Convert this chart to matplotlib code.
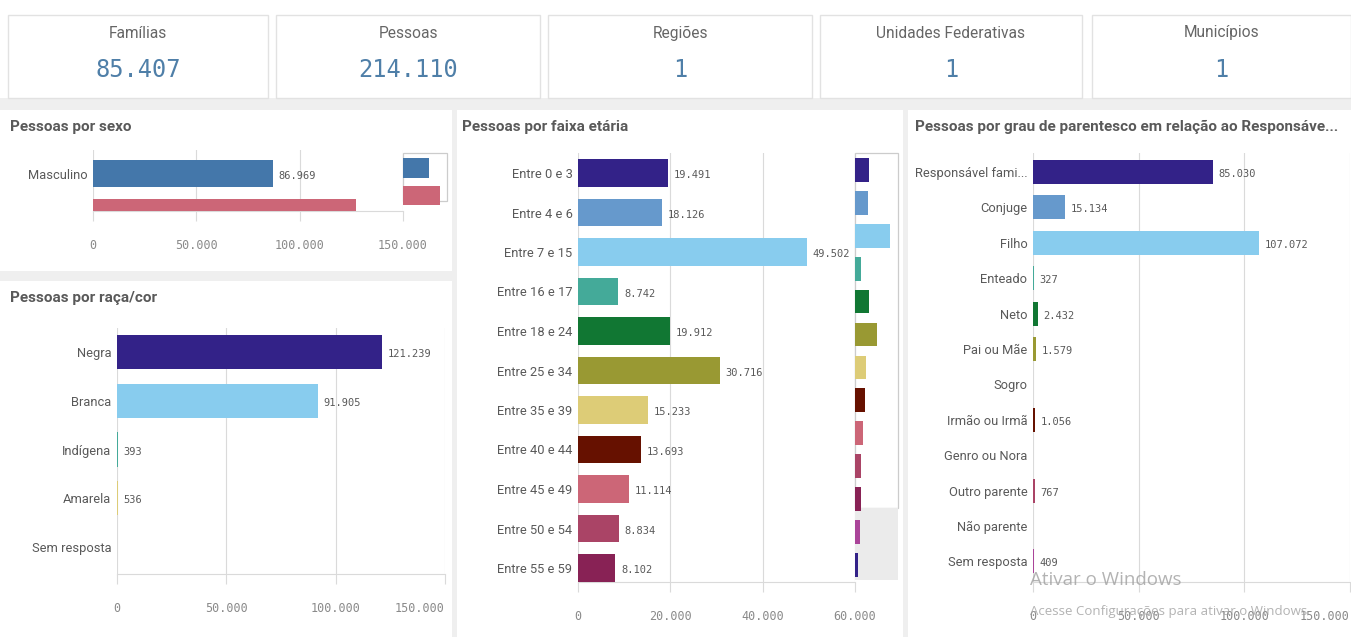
import matplotlib
matplotlib.use('Agg')
import matplotlib.pyplot as plt
from matplotlib import font_manager
from matplotlib.patches import Rectangle
from matplotlib.ticker import FuncFormatter

W, H = 1351, 637

# Indicadores do topo
kpi_titulos = ['Famílias', 'Pessoas', 'Regiões', 'Unidades Federativas', 'Municípios']
kpi_valores = [85407, 214110, 1, 1, 1]

# Pessoas por sexo (a segunda barra fica cortada pela rolagem)
sexo_cat = ['Masculino', 'Feminino']
sexo_val = [86969, 127141]
sexo_cores = ['#4477aa', '#cc6677']

# Pessoas por raça/cor
raca_cat = ['Negra', 'Branca', 'Indígena', 'Amarela', 'Sem resposta']
raca_val = [121239, 91905, 393, 536, 0]
raca_cores = ['#332288', '#88ccee', '#44aa99', '#ddcc77', '#999933']

# Pessoas por faixa etária
faixa_cat = ['Entre 0 e 3', 'Entre 4 e 6', 'Entre 7 e 15', 'Entre 16 e 17', 'Entre 18 e 24',
             'Entre 25 e 34', 'Entre 35 e 39', 'Entre 40 e 44', 'Entre 45 e 49',
             'Entre 50 e 54', 'Entre 55 e 59']
faixa_val = [19491, 18126, 49502, 8742, 19912, 30716, 15233, 13693, 11114, 8834, 8102]
# duas faixas fora da janela, só aparecem na mini-barra de rolagem (valores estimados)
faixa_ocultas_val = [6800, 3700]

# Pessoas por grau de parentesco
par_cat = ['Responsável fami...', 'Conjuge', 'Filho', 'Enteado', 'Neto', 'Pai ou Mãe',
           'Sogro', 'Irmão ou Irmã', 'Genro ou Nora', 'Outro parente', 'Não parente',
           'Sem resposta']
par_val = [85030, 15134, 107072, 327, 2432, 1579, 0, 1056, 0, 767, 0, 409]

paleta = ['#332288', '#6699cc', '#88ccee', '#44aa99', '#117733', '#999933',
          '#ddcc77', '#661100', '#cc6677', '#aa4466', '#882255', '#aa4499']

nomes = {f.name for f in font_manager.fontManager.ttflist}
SANS = 'Liberation Sans Narrow' if 'Liberation Sans Narrow' in nomes else 'Roboto'
MONO = 'DejaVu Sans Mono'
plt.rcParams['font.family'] = [SANS, 'DejaVu Sans']

CINZA_TXT = '#595959'
GRADE = '#dadada'


def milhar(v):
    return f'{int(round(v)):,}'.replace(',', '.')


fig = plt.figure(figsize=(W / 100, H / 100), dpi=100)
fig.patch.set_facecolor('white')

fundo = fig.add_axes([0, 0, 1, 1])
fundo.set_xlim(0, W)
fundo.set_ylim(H, 0)
fundo.axis('off')

# faixa cinza e painéis brancos
fundo.add_patch(Rectangle((0, 98), W, H - 98, facecolor='#efefef', edgecolor='none'))
for x0, y0, x1, y1 in [(0, 110, 452, 271), (0, 281, 452, 637),
                       (457, 110, 903, 637), (908, 110, W, 637)]:
    fundo.add_patch(Rectangle((x0, y0), x1 - x0, y1 - y0, facecolor='white', edgecolor='none'))

# cartões de indicadores
cartoes = [(8, 268), (276, 540), (548, 812), (820, 1082), (1092, W)]
for (x0, x1), tit, val in zip(cartoes, kpi_titulos, kpi_valores):
    fundo.add_patch(Rectangle((x0, 15), x1 - x0, 83, facecolor='white',
                              edgecolor='#e2e2e2', lw=1))
    cx = (x0 + x1) / 2
    fundo.text(cx, 33, tit, ha='center', va='center', fontsize=11.2, color='#666666')
    fundo.text(cx, 70, milhar(val), ha='center', va='center', fontsize=17,
               family=MONO, color='#4f7fa8')

# títulos dos painéis
for x, y, t in [(10, 127, 'Pessoas por sexo'), (10, 298, 'Pessoas por raça/cor'),
                (462, 127, 'Pessoas por faixa etária'),
                (915, 127, 'Pessoas por grau de parentesco em relação ao Responsáve...')]:
    fundo.text(x, y, t, ha='left', va='center', fontsize=11, fontweight='bold',
               color=CINZA_TXT)


def eixo_px(x0, y0, x1, y1):
    return fig.add_axes([x0 / W, 1 - y1 / H, (x1 - x0) / W, (y1 - y0) / H])


def barras(caixa, cats, vals, cores, xmax, ticks, c0, passo, alt):
    x0, y0, x1, y1 = caixa
    ax = eixo_px(*caixa)
    pos = list(range(len(vals)))
    ax.barh(pos, vals, height=alt, color=cores, zorder=3)
    ax.set_xlim(0, xmax)
    ybase = (y1 - c0) / passo
    ax.set_ylim(ybase, (y0 - c0) / passo)
    ax.set_facecolor('none')
    ax.set_xticks(ticks)
    ax.xaxis.set_major_formatter(FuncFormatter(lambda v, _: milhar(v)))
    # só as barras inteiras na janela recebem rótulo
    visiveis = [i for i in pos if i + alt / 2 <= ybase]
    ax.set_yticks(visiveis)
    ax.set_yticklabels([cats[i] for i in visiveis])
    ax.grid(axis='x', color=GRADE, lw=0.8, zorder=0)
    for s in ['top', 'right', 'left']:
        ax.spines[s].set_visible(False)
    ax.spines['bottom'].set_color(GRADE)
    ax.tick_params(axis='x', length=7, color=GRADE, width=0.8, pad=13,
                   labelsize=8.5, labelcolor='#8a8a8a')
    ax.tick_params(axis='y', length=0, pad=4, labelsize=9.3, labelcolor=CINZA_TXT)
    plt.setp(ax.get_xticklabels(), fontfamily=MONO)
    for i in visiveis:
        v = vals[i]
        if v > 0:
            ax.annotate(milhar(v), (v, i), xytext=(4, -1.5), textcoords='offset points',
                        ha='left', va='center', fontsize=7.5, family=MONO, color=CINZA_TXT,
                        zorder=4)
    return ax


def mini(caixa, vals, cores, xmax, c0, passo, alt, janela_fim, sombra):
    x0, y0, x1, y1 = caixa
    ax = eixo_px(*caixa)
    ytopo = (y0 - c0) / passo
    ybase = (y1 - c0) / passo
    yjan = (janela_fim - c0) / passo
    ax.barh(range(len(vals)), vals, height=alt, color=cores, zorder=3)
    ax.set_xlim(0, xmax)
    ax.set_ylim(ybase, ytopo)
    ax.axis('off')
    ax.add_patch(Rectangle((0, ytopo), xmax, yjan - ytopo, facecolor='white',
                           edgecolor='#cccccc', lw=0.9, zorder=1, clip_on=False))
    if sombra:
        ax.add_patch(Rectangle((0, yjan), xmax, ybase - yjan, facecolor='#ebebeb',
                               edgecolor='none', zorder=1))
    return ax


# Pessoas por sexo
barras((93, 150, 403, 211), sexo_cat, sexo_val, sexo_cores, 150000,
       [0, 50000, 100000, 150000], 173.5, 39, 0.69)
mini((403, 153, 447, 211), sexo_val, sexo_cores, 150000, 168, 27.5, 0.72, 201, False)

# Pessoas por raça/cor
ax_raca = barras((117, 328, 445, 574), raca_cat, raca_val, raca_cores, 150000,
                 [0, 50000, 100000, 150000], 352, 48.75, 0.7)
ax_raca.get_xticklabels()[-1].set_horizontalalignment('right')

# Pessoas por faixa etária
barras((578, 153, 855, 582), faixa_cat, faixa_val, paleta[:len(faixa_val)], 60000,
       [0, 20000, 40000, 60000], 173, 39.5, 0.7)
todas_faixas = faixa_val + faixa_ocultas_val
cores_faixas = [paleta[i % len(paleta)] for i in range(len(todas_faixas))]
mini((855, 153, 898, 580), todas_faixas, cores_faixas, 60000, 170, 32.9, 0.72, 508, True)

# Pessoas por grau de parentesco
ax_par = barras((1033, 153, 1350, 582), par_cat, par_val, paleta[:len(par_val)], 150000,
                [0, 50000, 100000, 150000], 172, 35.4, 0.68)
ax_par.get_xticklabels()[-1].set_horizontalalignment('right')

# marca d'água do Windows
fig.text(1030 / W, 1 - 580 / H, 'Ativar o Windows', ha='left', va='center',
         fontsize=13.5, family='Open Sans', color='#a0a0a0', alpha=0.8)
fig.text(1030 / W, 1 - 612 / H, 'Acesse Configurações para ativar o Windows', ha='left',
         va='center', fontsize=9.5, family='Open Sans', color='#a0a0a0', alpha=0.8)

fig.savefig('out.png', dpi=100, facecolor='white')
